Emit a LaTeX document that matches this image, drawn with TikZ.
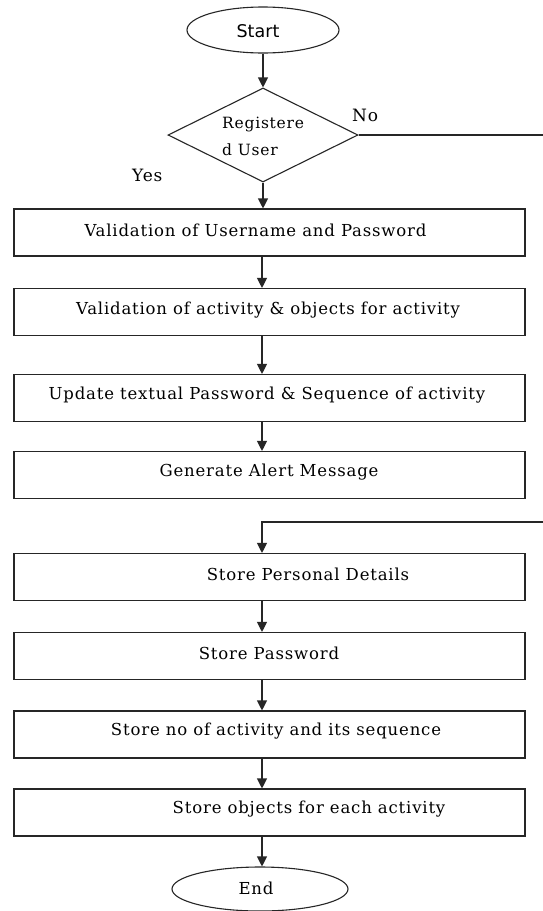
\documentclass[tikz,border=0pt]{standalone}
\usepackage{fontspec}
\setmainfont{DejaVu Serif}[LetterSpace=5]
\newfontfamily\startfont{DejaVu Sans}
\usetikzlibrary{shapes.geometric,arrows.meta}
\begin{document}
\begin{tikzpicture}[x=1pt,y=-1pt,
  line/.style={draw=black!85,line width=1.1pt},
  arr/.style={line,-{Triangle[width=10pt,length=10pt]}},
  procbox/.style={line,rectangle,minimum width=511pt,minimum height=47pt,inner sep=0pt},
  term/.style={line,ellipse,inner sep=0pt},
  txt/.style={font=\fontsize{16.5}{19}\selectfont,inner sep=0pt,text=black}]
\useasboundingbox (0,0) rectangle (543,911);
\fill[white] (0,0) rectangle (543,911);
\coordinate (ax) at (262,0);
% start
\node[term,minimum width=152pt,minimum height=46pt] (start) at (263,30) {};
\node[inner sep=0pt,font=\startfont\fontsize{17.5}{20}\selectfont] (starttxt) at (258,31) {Start};
% decision
\node[line,diamond,minimum width=190pt,minimum height=94pt,inner sep=0pt] (dec) at (263,135) {};
\node[txt,anchor=west,align=left,font=\fontsize{15.5}{27}\selectfont] (dectxt) at (222,136) {Registere\\d User};
\node[txt,anchor=west,font=\fontsize{17}{20}\selectfont] (no) at (352,115) {No};
\node[txt,anchor=west,font=\fontsize{17}{20}\selectfont] (yes) at (132,175) {Yes};
% boxes
\node[procbox] (b1) at (269.5,232.5) {};
\node[txt] (t1) at (255.5,230) {Validation of Username and Password};
\node[procbox] (b2) at (269.5,312) {};
\node[txt] (t2) at (268,310) {Validation of activity \& objects for activity};
\node[procbox] (b3) at (269.5,398) {};
\node[txt] (t3) at (267,395) {Update textual Password \& Sequence of activity};
\node[procbox] (b4) at (269.5,475) {};
\node[txt] (t4) at (269,472) {Generate Alert Message};
\node[procbox] (b5) at (269.5,577) {};
\node[txt] (t5) at (308,574) {Store Personal Details};
\node[procbox] (b6) at (269.5,656) {};
\node[txt] (t6) at (269,653) {Store Password};
\node[procbox] (b7) at (269.5,734.5) {};
\node[txt] (t7) at (276,731) {Store no of activity and its sequence};
\node[procbox] (b8) at (269.5,812.5) {};
\node[txt] (t8) at (309,809) {Store objects for each activity};
% end
\node[term,minimum width=176pt,minimum height=44pt] (end) at (260,889) {};
\node[txt] (endtxt) at (256,888) {End};
% connectors
\draw[arr] (start.south -| dec.north) -- (dec.north);
\draw[arr] (dec.south) -- (dec.south |- b1.north);
\draw[arr] (b1.south -| ax) -- (b2.north -| ax);
\draw[arr] (b2.south -| ax) -- (b3.north -| ax);
\draw[arr] (b3.south -| ax) -- (b4.north -| ax);
\coordinate (c1) at (549,135);
\coordinate (c2) at (549,522);
\draw[arr] (dec.east) -- (c1) -- (c2) -| (b5.north -| ax);
\draw[arr] (b5.south -| ax) -- (b6.north -| ax);
\draw[arr] (b6.south -| ax) -- (b7.north -| ax);
\draw[arr] (b7.south -| ax) -- (b8.north -| ax);
\draw[arr] (b8.south -| ax) -- (end.north -| ax);
\end{tikzpicture}
\end{document}
